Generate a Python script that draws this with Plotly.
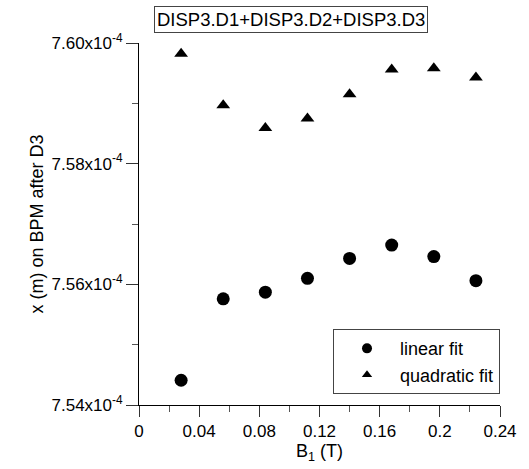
import plotly.graph_objects as go

b1 = [0.028, 0.056, 0.084, 0.112, 0.140, 0.168, 0.196, 0.224]
linear_fit = [7.5441e-4, 7.5576e-4, 7.5587e-4, 7.5610e-4, 7.5643e-4, 7.5665e-4, 7.5646e-4, 7.5606e-4]
quadratic_fit = [7.5982e-4, 7.5897e-4, 7.5859e-4, 7.5875e-4, 7.5915e-4, 7.5956e-4, 7.5958e-4, 7.5943e-4]

y_tickvals = [7.54e-4, 7.56e-4, 7.58e-4, 7.60e-4]
y_ticktext = ["7.54x10<sup>-4</sup>", "7.56x10<sup>-4</sup>", "7.58x10<sup>-4</sup>", "7.60x10<sup>-4</sup>"]
x_tickvals = [0, 0.04, 0.08, 0.12, 0.16, 0.2, 0.24]
x_ticktext = ["0", "0.04", "0.08", "0.12", "0.16", "0.2", "0.24"]

FONT = "Liberation Sans, Arial, sans-serif"
FS = 18
TFS = 17

fig = go.Figure()
fig.add_trace(go.Scatter(x=b1, y=linear_fit, mode="markers", showlegend=False,
                         marker=dict(symbol="circle", size=13, color="black")))
fig.add_trace(go.Scatter(x=b1, y=quadratic_fit, mode="markers", showlegend=False,
                         marker=dict(symbol="triangle-up", size=12, color="black")))
# legend entries
fig.add_trace(go.Scatter(x=[None], y=[None], mode="markers", name="linear fit",
                         marker=dict(symbol="circle", size=10, color="black")))
fig.add_trace(go.Scatter(x=[None], y=[None], mode="markers", name="quadratic fit",
                         marker=dict(symbol="triangle-up", size=9, color="black")))

fig.update_layout(
    width=529, height=469,
    margin=dict(l=139, r=25, t=43, b=61),
    paper_bgcolor="white", plot_bgcolor="white",
    font=dict(family=FONT, size=FS, color="black"),
    showlegend=True,
    legend=dict(x=1.0, xanchor="right", y=0.03, yanchor="bottom",
                bordercolor="#444", borderwidth=1, bgcolor="white",
                font=dict(size=FS), itemwidth=56, tracegroupgap=0),
    annotations=[dict(text="DISP3.D1+DISP3.D2+DISP3.D3", xref="paper", yref="paper",
                      x=0.4205, y=1.0, yanchor="bottom", xanchor="center", yshift=10,
                      showarrow=False, bordercolor="#444", borderwidth=1, borderpad=2,
                      font=dict(size=18.5))],
)
fig.update_xaxes(range=[0, 0.24], tickvals=x_tickvals, ticktext=x_ticktext,
                 tickfont=dict(size=TFS),
                 showgrid=False, zeroline=False, showline=True, linecolor="black", linewidth=1,
                 ticks="outside", ticklen=11, tickcolor="#333", tickwidth=1,
                 minor=dict(ticks="outside", ticklen=6, tickcolor="#555", dtick=0.02, showgrid=False),
                 title=dict(text="B<sub>1</sub> (T)", standoff=3, font=dict(size=FS)))
fig.update_yaxes(range=[7.54e-4, 7.60e-4], tickvals=y_tickvals, ticktext=y_ticktext,
                 tickfont=dict(size=TFS),
                 showgrid=False, zeroline=False, showline=True, linecolor="black", linewidth=1,
                 ticks="outside", ticklen=12, tickcolor="#333", tickwidth=1,
                 minor=dict(ticks="outside", ticklen=6, tickcolor="#555", dtick=0.01e-4, showgrid=False),
                 title=dict(text="x (m) on BPM after D3", standoff=3, font=dict(size=FS)))

fig.write_html("out.html")
